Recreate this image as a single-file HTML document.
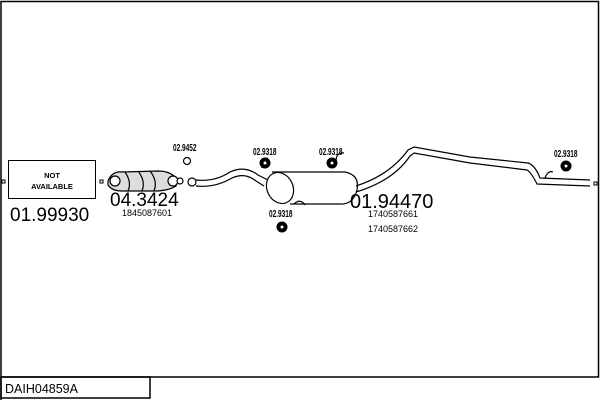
<!DOCTYPE html>
<html><head><meta charset="utf-8"><style>
html,body{margin:0;padding:0;background:#fff;width:600px;height:400px;overflow:hidden}
svg{display:block}
text{font-family:"Liberation Sans",sans-serif;fill:#000}
</style></head><body>
<svg width="600" height="400" viewBox="0 0 600 400">
<g fill="none" stroke="#000" stroke-width="1.5">
<path d="M1 400 V1.5 H598.5 V377 H1"/>
<rect x="1" y="377" width="149" height="21"/>
</g>
<rect x="8.5" y="160.5" width="87" height="38" fill="#fff" stroke="#000" stroke-width="1"/>
<text x="52" y="178" font-size="7.5" font-weight="bold" text-anchor="middle">NOT</text>
<text x="52" y="189" font-size="7.5" font-weight="bold" text-anchor="middle">AVAILABLE</text>
<rect x="2" y="180" width="3" height="3" fill="none" stroke="#000"/>
<rect x="100" y="180" width="3" height="3" fill="none" stroke="#000"/>
<rect x="594" y="182" width="3" height="3" fill="none" stroke="#000"/>
<text x="10" y="221" font-size="19">01.99930</text>
<g fill="#fff" stroke="#000" stroke-width="1.2">
<path d="M108 181 Q112 171 122 172 L158 171 Q170 171 176 178 L176 186 Q170 190 158 191 L122 191 Q112 191 108 185 Z" fill="#ddd"/>
<path d="M125 172 Q132 182 128 191 M138 171 Q146 181 142 191 M150 171 Q158 181 154 191" fill="none"/>
<circle cx="115" cy="181" r="5"/>
<circle cx="173" cy="181" r="5"/>
<circle cx="180" cy="181" r="3"/>
<circle cx="192" cy="182" r="4"/>
<circle cx="187" cy="161" r="3.5"/>
</g>
<text x="110" y="206" font-size="19">04.3424</text>
<text x="122" y="216" font-size="9" fill="#333">1845087601</text>
<g font-size="10.5" font-weight="bold">
<text x="173" y="151" transform="translate(173 151) scale(.62 1) translate(-173 -151)">02.9452</text>
<text x="253" y="155" transform="translate(253 155) scale(.62 1) translate(-253 -155)">02.9318</text>
<text x="319" y="155" transform="translate(319 155) scale(.62 1) translate(-319 -155)">02.9318</text>
<text x="269" y="217" transform="translate(269 217) scale(.62 1) translate(-269 -217)">02.9318</text>
<text x="554" y="157" transform="translate(554 157) scale(.62 1) translate(-554 -157)">02.9318</text>
</g>
<g fill="none" stroke="#000" stroke-width="1.2">
<path d="M196 180 Q215 182 230 172 Q245 165 258 175 L268 180"/>
<path d="M196 186 Q215 188 232 178 Q245 172 256 181 L264 186"/>
<path d="M272 172 H345 Q360 175 357 190 Q353 205 340 204 H290"/>
<ellipse cx="280" cy="188" rx="13" ry="16" fill="#fff" transform="rotate(-25 280 188)"/>
<path d="M262 168 Q262 160 268 158 M336 162 Q336 152 344 153"/>
<path d="M294 204 Q300 198 305 205"/>
<path d="M356 186 Q390 175 408 150 L414 147 L470 157 L528 163 Q535 165 540 178 L590 180"/>
<path d="M356 192 Q393 181 410 156 L414 153 L470 163 L527 170 Q531 172 537 184 L590 186"/>
<path d="M545 178 Q548 170 553 172"/>
</g>
<g fill="#000">
<circle cx="265" cy="163" r="5.5"/>
<circle cx="332" cy="163" r="5.5"/>
<circle cx="282" cy="227" r="5.5"/>
<circle cx="566" cy="166" r="5.5"/>
</g>
<g fill="#fff">
<circle cx="265" cy="163" r="1.5"/>
<circle cx="332" cy="163" r="1.5"/>
<circle cx="282" cy="227" r="1.5"/>
<circle cx="566" cy="166" r="1.5"/>
</g>
<text x="350" y="208" font-size="20">01.94470</text>
<text x="368" y="217" font-size="9" fill="#333">1740587661</text>
<text x="368" y="232" font-size="9" fill="#333">1740587662</text>
<text x="5" y="393" font-size="12.5">DAIH04859A</text>
</svg>
</body></html>
